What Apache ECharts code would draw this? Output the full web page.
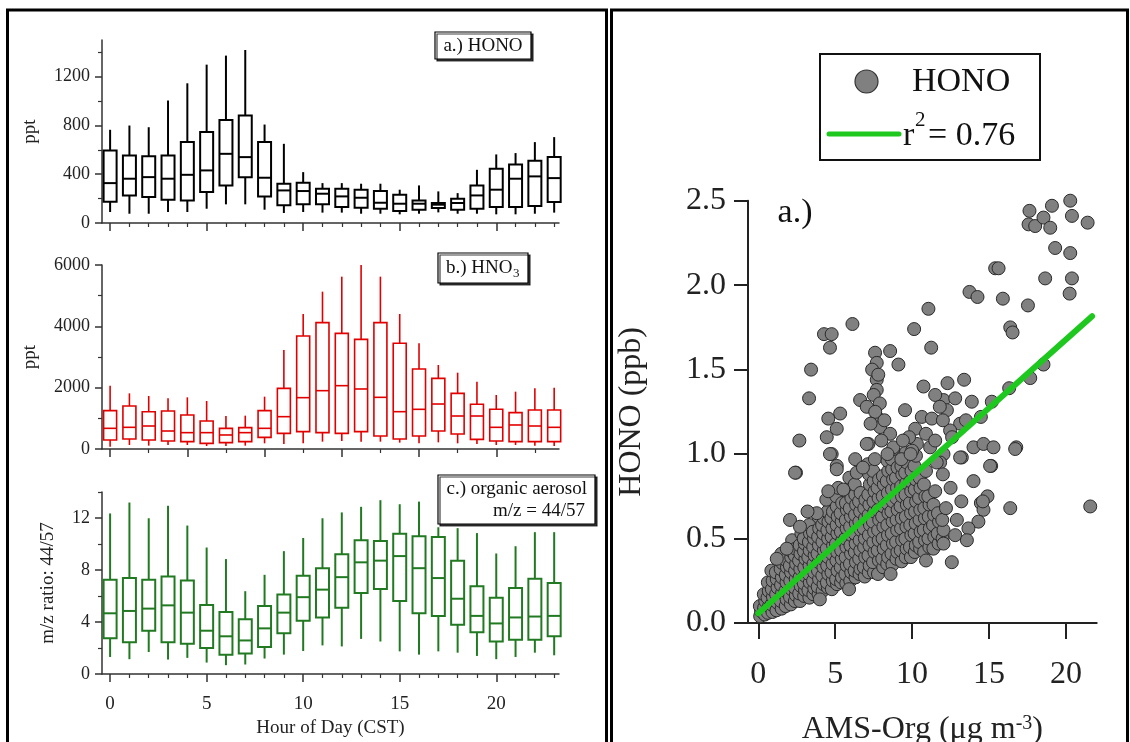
<!DOCTYPE html>
<html><head><meta charset="utf-8">
<script src="https://cdn.jsdelivr.net/npm/echarts@6/dist/echarts.min.js"></script>
<style>html,body{margin:0;padding:0;background:#fff}#c{width:1130px;height:742px}</style>
</head><body><div id="c"></div>
<script>
// ---------------- DATA ----------------
const hours = [0,1,2,3,4,5,6,7,8,9,10,11,12,13,14,15,16,17,18,19,20,21,22,23];

// a.) HONO (ppt)
const honoMin = [90,76,76,90,90,117,153,153,109,82,90,85,85,76,76,71,76,87,76,76,71,71,76,85];
const honoQ1  = [175,226,213,191,185,254,308,376,218,145,153,153,131,125,117,98,109,123,109,117,131,131,139,172];
const honoMed = [327,363,376,363,395,431,567,540,371,267,262,240,218,207,166,158,158,150,164,226,273,363,382,368];
const honoQ3  = [595,554,548,554,663,745,845,881,663,322,330,281,281,273,262,232,185,164,199,308,445,480,510,540];
const honoMax = [764,799,785,1004,1145,1298,1372,1418,807,649,417,327,327,322,322,273,308,259,245,436,562,573,663,704];

// b.) HNO3 (ppt)
const hno3Min = [76,130,109,130,130,98,98,109,185,163,185,239,261,239,239,207,185,217,185,163,130,130,109,98];
const hno3Q1  = [293,326,293,261,239,185,207,239,380,511,565,533,511,565,424,326,424,587,489,315,261,239,239,239];
const hno3Med = [674,707,750,587,533,533,457,533,674,1054,1674,1902,2065,1957,1685,1217,1294,1467,1076,1076,707,783,750,707];
const hno3Q3  = [1250,1402,1217,1239,1109,913,674,696,1250,1978,3685,4120,3772,3576,4120,3446,2609,2304,1815,1457,1294,1185,1272,1272];
const hno3Max = [2065,1815,1728,1652,1685,1565,1076,1087,1707,3228,4402,5131,5620,6000,5620,4402,3446,2739,2489,2196,1761,1870,1978,2000];

// c.) organic aerosol m/z 44/57
const orgMin = [1.31,1.14,1.69,1.11,1.24,0.88,0.68,0.73,1.19,1.49,1.77,2.20,2.12,2.70,2.50,1.74,1.49,1.74,1.64,1.39,1.14,1.31,1.64,1.44];
const orgQ1  = [2.75,2.45,3.33,2.45,2.32,2.00,1.49,1.57,2.07,3.13,4.09,4.35,5.10,6.24,6.54,5.61,4.67,4.47,3.79,3.21,2.50,2.63,2.63,2.91];
const orgMed = [4.67,4.85,5.03,5.28,4.72,3.33,2.90,2.58,3.51,4.72,5.91,6.49,7.45,8.59,8.72,9.07,8.14,7.38,5.79,4.47,3.89,4.35,4.42,4.47];
const orgQ3  = [7.25,7.38,7.25,7.50,7.20,5.31,4.77,4.22,5.23,6.11,7.55,8.14,9.22,10.28,10.23,10.79,10.59,10.54,8.72,6.75,5.86,6.62,7.33,7.00];
const orgMax = [12.35,13.19,11.98,12.94,11.42,9.73,8.84,6.37,7.63,9.45,10.46,11.98,12.43,12.86,13.37,13.06,13.26,11.29,11.22,10.84,9.27,9.83,10.91,10.91];

// tick values
const hourLabelTicks = [0,5,10,15,20];
const hourMinorTicks = [1,2,3,4,6,7,8,9,11,12,13,14,16,17,18,19,21,22,23];
const hno3HourMajor = [0,4,8,12,16,20];
const hno3HourMinor = [2,6,10,14,18,22];
const honoYMajor = [0,400,800,1200];
const honoYMinor = [200,600,1000,1400];
const hno3YMajor = [0,2000,4000,6000];
const hno3YMinor = [1000,3000,5000];
const orgYMajor = [0,4,8,12];
const orgYMinor = [2,6,10,14];
const sctXTicks = [0,5,10,15,20];

// scatter: AMS-Org (ug m-3) vs HONO (ppb) — dense core of the cloud
const scatterDense = [
[0.12,0.04],[0.18,0.07],[0.1,0.1],
[0.42,0.05],[0.38,0.09],[0.45,0.13],[0.36,0.17],
[0.63,0.06],[0.7,0.1],[0.6,0.15],[0.68,0.19],[0.62,0.24],
[0.92,0.065],[0.86,0.11],[0.95,0.155],[0.88,0.2],[0.93,0.25],[0.85,0.31],
[1.18,0.075],[1.24,0.12],[1.16,0.17],[1.25,0.21],[1.2,0.26],[1.14,0.3],
[1.52,0.085],[1.46,0.13],[1.55,0.18],[1.48,0.225],[1.53,0.27],[1.45,0.32],[1.56,0.355],[1.5,0.41],
[1.78,0.1],[1.84,0.14],[1.76,0.19],[1.83,0.24],[1.79,0.285],[1.86,0.33],[1.77,0.375],
[2.12,0.11],[2.06,0.155],[2.15,0.2],[2.08,0.25],[2.13,0.3],[2.05,0.34],[2.14,0.39],[2.09,0.43],[2.2,0.49],
[2.38,0.13],[2.44,0.165],[2.36,0.21],[2.43,0.26],[2.39,0.31],[2.46,0.35],[2.37,0.4],[2.42,0.44],
[2.72,0.13],[2.66,0.175],[2.75,0.22],[2.68,0.27],[2.73,0.32],[2.65,0.37],[2.74,0.41],[2.69,0.46],[2.8,0.53],
[2.98,0.16],[3.04,0.195],[2.96,0.235],[3.03,0.28],[2.99,0.33],[3.06,0.38],[2.97,0.425],[3.02,0.47],[2.95,0.5],
[3.32,0.15],[3.26,0.195],[3.35,0.24],[3.28,0.29],[3.33,0.34],[3.25,0.39],[3.34,0.43],[3.29,0.48],[3.36,0.53],[3.3,0.58],
[3.58,0.17],[3.64,0.205],[3.56,0.25],[3.63,0.3],[3.59,0.35],[3.66,0.4],[3.57,0.45],[3.62,0.5],[3.55,0.54],
[3.92,0.17],[3.86,0.215],[3.95,0.26],[3.88,0.31],[3.93,0.36],[3.85,0.41],[3.94,0.46],[3.89,0.51],[3.96,0.56],[3.9,0.63],
[4.18,0.19],[4.24,0.23],[4.16,0.28],[4.23,0.33],[4.19,0.38],[4.26,0.43],[4.17,0.48],[4.22,0.53],[4.15,0.58],[4.25,0.62],
[4.52,0.21],[4.46,0.24],[4.55,0.29],[4.48,0.34],[4.53,0.39],[4.45,0.44],[4.54,0.5],[4.49,0.55],[4.56,0.6],[4.5,0.66],[4.42,0.73],
[4.78,0.2],[4.84,0.25],[4.76,0.3],[4.83,0.35],[4.79,0.41],[4.86,0.46],[4.77,0.51],[4.82,0.56],[4.75,0.62],[4.85,0.66],
[5.12,0.23],[5.06,0.26],[5.15,0.31],[5.08,0.37],[5.13,0.42],[5.05,0.47],[5.14,0.53],[5.09,0.58],[5.16,0.63],[5.1,0.69],[5.07,0.75],[5.2,0.8],
[5.38,0.24],[5.44,0.27],[5.36,0.33],[5.43,0.38],[5.39,0.43],[5.46,0.49],[5.37,0.54],[5.42,0.6],[5.35,0.65],[5.45,0.71],
[5.72,0.235],[5.66,0.29],[5.75,0.34],[5.68,0.39],[5.73,0.45],[5.65,0.5],[5.74,0.56],[5.69,0.61],[5.76,0.67],[5.7,0.71],
[5.98,0.25],[6.04,0.3],[5.96,0.35],[6.03,0.41],[5.99,0.46],[6.06,0.52],[5.97,0.57],[6.02,0.63],[5.95,0.68],[6.05,0.74],[6.0,0.81],[5.92,0.86],
[6.32,0.27],[6.26,0.31],[6.35,0.36],[6.28,0.42],[6.33,0.47],[6.25,0.53],[6.34,0.59],[6.29,0.64],[6.36,0.7],[6.3,0.76],[6.27,0.82],[6.4,0.89],
[6.58,0.29],[6.64,0.32],[6.56,0.38],[6.63,0.43],[6.59,0.49],[6.66,0.55],[6.57,0.6],[6.62,0.66],[6.55,0.72],[6.65,0.77],
[6.92,0.275],[6.86,0.33],[6.95,0.39],[6.88,0.45],[6.93,0.5],[6.85,0.56],[6.94,0.62],[6.89,0.68],[6.96,0.73],
[7.18,0.3],[7.24,0.34],[7.16,0.4],[7.23,0.46],[7.19,0.52],[7.26,0.58],[7.17,0.64],[7.22,0.7],[7.15,0.76],[7.25,0.82],[7.2,0.88],[7.12,0.94],
[7.52,0.3],[7.46,0.36],[7.55,0.42],[7.48,0.48],[7.53,0.54],[7.45,0.6],[7.54,0.66],[7.49,0.72],[7.56,0.78],[7.5,0.84],[7.47,0.9],[7.58,0.97],
[7.78,0.29],[7.84,0.37],[7.76,0.43],[7.83,0.49],[7.79,0.55],[7.86,0.61],[7.77,0.67],[7.82,0.74],[7.75,0.8],[7.85,0.85],
[8.12,0.33],[8.06,0.38],[8.15,0.44],[8.08,0.5],[8.13,0.57],[8.05,0.63],[8.14,0.69],[8.09,0.75],[8.16,0.82],[8.1,0.87],
[8.38,0.35],[8.44,0.39],[8.36,0.46],[8.43,0.52],[8.39,0.58],[8.46,0.65],[8.37,0.71],[8.42,0.77],[8.35,0.84],[8.45,0.9],[8.4,0.96],
[8.72,0.345],[8.66,0.41],[8.75,0.47],[8.68,0.53],[8.73,0.6],[8.65,0.66],[8.74,0.72],[8.69,0.79],[8.76,0.85],[8.7,0.91],[8.67,0.97],[8.78,1.03],
[8.98,0.38],[9.04,0.42],[8.96,0.48],[9.03,0.55],[8.99,0.61],[9.06,0.67],[8.97,0.74],[9.02,0.8],[8.95,0.86],[9.05,0.92],
[9.32,0.365],[9.26,0.43],[9.35,0.49],[9.28,0.56],[9.33,0.62],[9.25,0.69],[9.34,0.75],[9.29,0.81],[9.36,0.88],[9.3,0.93],
[9.58,0.39],[9.64,0.44],[9.56,0.5],[9.63,0.57],[9.59,0.63],[9.66,0.7],[9.57,0.76],[9.62,0.83],[9.55,0.89],[9.65,0.95],[9.6,1.01],
[9.92,0.39],[9.86,0.45],[9.95,0.52],[9.88,0.58],[9.93,0.65],[9.85,0.71],[9.94,0.78],[9.89,0.84],[9.96,0.9],
[10.18,0.42],[10.24,0.46],[10.16,0.53],[10.23,0.59],[10.19,0.66],[10.26,0.72],[10.17,0.79],[10.22,0.85],[10.15,0.93],[10.25,0.99],
[10.52,0.44],[10.46,0.48],[10.55,0.54],[10.48,0.61],[10.53,0.67],[10.45,0.74],[10.54,0.8],[10.49,0.86],
[10.78,0.42],[10.84,0.49],[10.76,0.55],[10.83,0.62],[10.79,0.68],[10.86,0.75],[10.77,0.82],[10.9,0.9],
[11.12,0.45],[11.06,0.5],[11.15,0.56],[11.08,0.63],[11.13,0.7],[11.05,0.75],
[11.38,0.44],[11.44,0.51],[11.36,0.58],[11.43,0.64],[11.39,0.7],[11.5,0.78],
[11.72,0.47],[11.66,0.53],[11.75,0.6],[11.68,0.65],
[11.98,0.5],[12.04,0.55],[11.96,0.61],[12.2,0.68]
];
// scattered points outside the core
const scatterSparse = [
[17.63,2.44],[17.57,2.36],[18.0,2.35],[18.54,2.40],[19.09,2.47],[18.98,2.34],[20.28,2.50],[20.39,2.41],[21.41,2.37],
[19.3,2.22],[20.28,2.19],[18.65,2.04],[20.39,2.04],[20.24,1.95],[17.53,1.88],[15.4,2.10],[15.62,2.10],[13.73,1.96],
[14.25,1.93],[15.9,1.92],[16.38,1.75],[16.53,1.72],[11.06,1.86],[10.13,1.74],[11.24,1.63],[6.12,1.77],[4.27,1.71],
[4.77,1.71],[4.66,1.63],[3.43,1.50],[3.3,1.33],[2.67,1.08],[2.45,0.89],[18.54,1.53],[17.68,1.45],[16.31,1.39],
[15.18,1.31],[14.47,1.22],[16.77,1.04],[15.14,0.93],[13.88,1.31],[13.38,1.44],[12.3,1.42],[10.74,1.40],[9.54,1.26],
[9.11,1.53],[8.57,1.61],[7.59,1.60],[7.7,1.54],[7.7,1.44],[7.7,1.38],[6.62,1.32],[7.05,1.28],[5.32,1.24],[4.55,1.21],
[5.1,1.15],[4.45,1.10],[4.77,1.00],[5.1,0.93],[7.16,1.06],[7.7,1.22],[7.92,1.16],[8.57,1.12],[8.78,1.04],[10.63,1.22],
[11.28,1.21],[12.04,1.32],[12.26,1.26],[13.12,1.18],[12.47,1.14],[11.17,1.04],[10.31,1.06],[13.99,1.04],[14.64,1.06],
[15.29,1.04],[13.23,0.98],[12.04,1.00],[11.82,0.95],[21.58,0.69],[16.38,0.68],[16.7,1.03],[15.07,0.93],[14.47,0.71],
[14.64,0.67],[14.31,0.60],[13.66,0.56],[12.91,0.61],[12.8,0.52],[13.56,0.49],[12.58,0.36],[12.04,0.47],[13.99,0.84],
[13.12,0.98],[2.06,0.61],[2.39,0.89],[4.66,1.0],[5.1,0.91],[4.55,0.78],[5.53,0.79],[1.85,0.44],[2.71,0.57],[3.8,0.65],
[7.05,1.06],[7.4,1.5],[7.8,1.47],[7.5,1.35],[7.9,1.3],[7.6,1.25],[8.2,1.2],[7.3,1.18],[8.0,1.08],[8.4,1.0],
[11.5,1.35],[12.0,1.2],[12.8,1.33],[11.8,1.28],[13.5,1.2],[12.6,1.1],[10.2,1.15],[9.8,1.1],[9.4,1.08],[10.9,1.12],
[11.5,1.08],[9.3,0.97],[10.0,1.02],[14.9,0.75],[14.6,0.72],[13.2,0.72],[12.5,0.8],[12.0,0.88],[11.6,0.95],
[6.3,0.97],[3.2,0.66],[1.2,0.38],[5.9,0.2],[8.6,0.29],[10.9,0.37],[4.0,0.14],[6.8,0.92],[9.9,1.0]
];
const fitLine = [[0,0.057],[21.7,1.816]];

// ---------------- CHART ----------------
const SERIF = 'Liberation Serif';
const chart = echarts.init(document.getElementById('c'));

function rows(mn,q1,md,q3,mx){ return hours.map((h,i)=>[h,mn[i],q1[i],md[i],q3[i],mx[i]]); }

function boxRender(color, lw, hw){
  return function(params, api){
    const x = api.value(0);
    const pMin = api.coord([x, api.value(1)]);
    const pQ1 = api.coord([x, api.value(2)]);
    const pMed = api.coord([x, api.value(3)]);
    const pQ3 = api.coord([x, api.value(4)]);
    const pMax = api.coord([x, api.value(5)]);
    const st = {stroke: color, lineWidth: lw, fill: null};
    return {type:'group', children:[
      {type:'line', shape:{x1:pMax[0],y1:pMax[1],x2:pQ3[0],y2:pQ3[1]}, style:st},
      {type:'line', shape:{x1:pQ1[0],y1:pQ1[1],x2:pMin[0],y2:pMin[1]}, style:st},
      {type:'rect', shape:{x:pQ3[0]-hw,y:pQ3[1],width:2*hw,height:pQ1[1]-pQ3[1]}, style:{stroke:color,lineWidth:lw,fill:'#fff'}},
      {type:'line', shape:{x1:pMed[0]-hw,y1:pMed[1],x2:pMed[0]+hw,y2:pMed[1]}, style:st}
    ]};
  };
}

const panels = [
  {top:40, height:183, ymax:1500, yMaj:honoYMajor, yMin:honoYMinor, xMaj:hourLabelTicks, xMin:hourMinorTicks, color:'#000', lw:2, name:'ppt', nameGap:62, xLabels:false,
   data: rows(honoMin,honoQ1,honoMed,honoQ3,honoMax)},
  {top:265, height:184, ymax:6000, yMaj:hno3YMajor, yMin:hno3YMinor, xMaj:hno3HourMajor, xMin:hno3HourMinor, color:'#e10000', lw:1.6, name:'ppt', nameGap:62, xLabels:false,
   data: rows(hno3Min,hno3Q1,hno3Med,hno3Q3,hno3Max)},
  {top:492, height:182, ymax:14, yMaj:orgYMajor, yMin:orgYMinor, xMaj:hourLabelTicks, xMin:hourMinorTicks, color:'#217a21', lw:2, name:'m/z ratio: 44/57', nameGap:44, xLabels:true,
   data: rows(orgMin,orgQ1,orgMed,orgQ3,orgMax)}
];

const grids=[], xAxes=[], yAxes=[], series=[];
const axCol = '#333';
panels.forEach((p,i)=>{
  grids.push({left:102, top:p.top, width:457, height:p.height, outerBoundsMode:'none', containLabel:false});
  xAxes.push({type:'value', gridIndex:i, min:-0.42, max:23.25, position:'bottom', offset:0,
    axisLine:{show:true,onZero:false,lineStyle:{color:axCol,width:1.5}},
    axisTick:{show:true,customValues:p.xMaj,length:8,lineStyle:{color:axCol,width:1.5}},
    axisLabel:{show:p.xLabels,customValues:hourLabelTicks,margin:21,fontFamily:SERIF,fontSize:19,color:'#222',formatter:v=>String(v)},
    splitLine:{show:false},
    name: p.xLabels ? 'Hour of Day (CST)' : '', nameLocation:'middle', nameGap:45,
    nameTextStyle:{fontFamily:SERIF,fontSize:19,color:'#222'}});
  xAxes.push({type:'value', gridIndex:i, min:-0.42, max:23.25, position:'bottom', offset:0,
    axisLine:{show:false,onZero:false}, axisTick:{show:true,customValues:p.xMin,length:4,lineStyle:{color:axCol,width:1.2}},
    axisLabel:{show:false}, splitLine:{show:false}});
  yAxes.push({type:'value', gridIndex:i, min:0, max:p.ymax, position:'left', offset:0,
    axisLine:{show:true,onZero:false,lineStyle:{color:axCol,width:1.5}},
    axisTick:{show:true,customValues:p.yMaj,length:7,lineStyle:{color:axCol,width:1.5}},
    axisLabel:{show:true,customValues:p.yMaj,margin:12,fontFamily:SERIF,fontSize:18,color:'#222',formatter:v=>String(v)},
    splitLine:{show:false},
    name:p.name, nameLocation:'middle', nameGap:p.nameGap, nameRotate:90,
    nameTextStyle:{fontFamily:SERIF,fontSize:19,color:'#222'}});
  yAxes.push({type:'value', gridIndex:i, min:0, max:p.ymax, position:'left', offset:0,
    axisLine:{show:false,onZero:false}, axisTick:{show:true,customValues:p.yMin,length:4,lineStyle:{color:axCol,width:1.2}},
    axisLabel:{show:false}, splitLine:{show:false}});
  series.push({type:'custom', xAxisIndex:2*i, yAxisIndex:2*i, data:p.data, encode:{x:0,y:[1,2,3,4,5]},
    renderItem: boxRender(p.color, p.lw, 6.5), silent:true});
});

// right scatter panel
grids.push({left:748, top:200.7, width:348.7, height:422.3, outerBoundsMode:'none', containLabel:false});
xAxes.push({type:'value', gridIndex:3, min:-0.67, max:22, position:'bottom',
  axisLine:{show:true,onZero:false,lineStyle:{color:'#222',width:2}},
  axisTick:{show:true,customValues:sctXTicks,length:16,lineStyle:{color:'#222',width:2}},
  axisLabel:{show:true,customValues:sctXTicks,margin:36,fontFamily:SERIF,fontSize:32,color:'#222',formatter:v=>String(v)},
  splitLine:{show:false},
  name:'{n|AMS-Org (μg m}{s|-3}{n|)}', nameLocation:'middle', nameGap:91,
  nameTextStyle:{fontFamily:SERIF,fontSize:32,color:'#222',
    rich:{n:{fontFamily:SERIF,fontSize:32,lineHeight:32,color:'#222'},
          s:{fontFamily:SERIF,fontSize:20,lineHeight:2,verticalAlign:'top',color:'#222'}}}});
yAxes.push({type:'value', gridIndex:3, min:0, max:2.5, interval:0.5, position:'left',
  axisLine:{show:true,onZero:false,lineStyle:{color:'#222',width:2}},
  axisTick:{show:true,length:14,lineStyle:{color:'#222',width:2}},
  axisLabel:{show:true,margin:22,fontFamily:SERIF,fontSize:32,color:'#222',formatter:v=>v.toFixed(1)},
  splitLine:{show:false},
  name:'HONO (ppb)', nameLocation:'middle', nameGap:100, nameRotate:90,
  nameTextStyle:{fontFamily:SERIF,fontSize:32,color:'#222'}});

series.push({type:'scatter', xAxisIndex:6, yAxisIndex:6, data:scatterDense.concat(scatterSparse), symbolSize:13,
  itemStyle:{color:'#808080',borderColor:'#2a2a2a',borderWidth:1,opacity:1}, z:2, silent:true});
series.push({type:'line', xAxisIndex:6, yAxisIndex:6, data:fitLine, symbol:'none',
  lineStyle:{color:'#1ec81e',width:6,cap:'round'}, z:3, silent:true});

const labelBox = (x,y,w,h)=>({type:'rect', shape:{x:x,y:y,width:w,height:h},
  style:{fill:'#fff',stroke:'#000',lineWidth:1.2,shadowColor:'rgba(0,0,0,0.75)',shadowOffsetX:2,shadowOffsetY:2,shadowBlur:0}, z:50});
const txt = (x,y,text,size,align,extra)=>Object.assign({type:'text', x:x, y:y,
  style:{text:text, fontFamily:SERIF, fontSize:size, fill:'#111', align:align, verticalAlign:'middle'}, z:51}, extra||{});

const graphic = [
  {type:'rect', shape:{x:7.5,y:10,width:599,height:745}, style:{fill:null,stroke:'#000',lineWidth:3}, z:100},
  {type:'rect', shape:{x:611.5,y:10,width:516,height:745}, style:{fill:null,stroke:'#000',lineWidth:3}, z:100},
  labelBox(435,32,96,27),
  txt(483,46,'a.) HONO',19,'center'),
  labelBox(438,253,90,30),
  txt(446,268,'b.) HNO',19,'left'),
  txt(513,274,'3',13,'left'),
  labelBox(438,475,157,49),
  txt(587,489,'c.) organic aerosol',19,'right'),
  txt(585,511,'m/z = 44/57',19,'right'),
  // scatter legend
  {type:'rect', shape:{x:820,y:54,width:220,height:106}, style:{fill:'#fff',stroke:'#111',lineWidth:2}, z:50},
  {type:'circle', shape:{cx:866.5,cy:81.5,r:11.5}, style:{fill:'#808080',stroke:'#333',lineWidth:1.2}, z:51},
  txt(912,82,'HONO',34,'left'),
  {type:'line', shape:{x1:829,y1:134,x2:899,y2:134}, style:{stroke:'#1ec81e',lineWidth:5,lineCap:'round'}, z:51},
  txt(903,136,'r',34,'left'),
  txt(915,120,'2',21,'left'),
  txt(928,136,'= 0.76',34,'left'),
  txt(795,213,'a.)',34,'center')
];

chart.setOption({animation:false, backgroundColor:'#fff', grid:grids, xAxis:xAxes, yAxis:yAxes, series:series, graphic:graphic});
</script></body></html>
